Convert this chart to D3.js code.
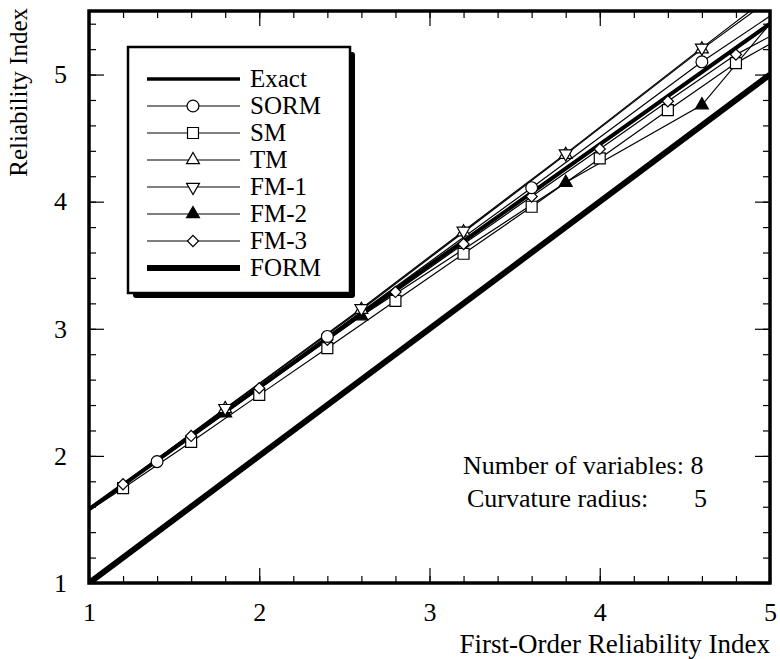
<!DOCTYPE html>
<html>
<head>
<meta charset="utf-8">
<script src="https://cdn.jsdelivr.net/npm/d3@7/dist/d3.min.js"></script>
<style>
  body { margin: 0; background: #fff; }
  svg text { font-family: "Times New Roman", "Liberation Serif", Times, "Nimbus Roman", "Noto Serif", "DejaVu Serif", serif; fill: #000; }
</style>
</head>
<body>
<svg id="chart" width="780" height="659"></svg>
<script>
// axis ticks
const xMajor = [1, 2, 3, 4, 5];
const yMajor = [1, 2, 3, 4, 5];

// series (x = first-order index, y = reliability index)
const exactX = [1, 2, 3, 4, 5];
const exactY = [1.58, 2.54, 3.50, 4.45, 5.40];
const formX = [1, 5];
const formY = [1, 5];
const sormX = [1, 1.4, 2.4, 3.6, 4.6, 5];
const sormY = [1.58, 1.955, 2.94, 4.11, 5.10, 5.46];
const smX = [1, 1.2, 1.6, 2.0, 2.4, 2.8, 3.2, 3.6, 4.0, 4.4, 4.8, 5];
const smY = [1.57, 1.746, 2.11, 2.48, 2.848, 3.22, 3.59, 3.96, 4.34, 4.72, 5.09, 5.24];
const tmX = [1, 1.8, 2.6, 3.2, 3.8, 4.6, 5];
const tmY = [1.58, 2.37, 3.15, 3.76, 4.37, 5.20, 5.59];
const fm1X = [1, 1.8, 2.6, 3.2, 3.8, 4.6, 5];
const fm1Y = [1.58, 2.375, 3.16, 3.77, 4.378, 5.21, 5.62];
const fm2X = [1, 1.8, 2.6, 3.8, 4.6, 5];
const fm2Y = [1.58, 2.336, 3.10, 4.15, 4.76, 5.40];
const fm3X = [1, 1.2, 1.6, 2.0, 2.4, 2.8, 3.2, 3.6, 4.0, 4.4, 4.8, 5];
const fm3Y = [1.59, 1.777, 2.157, 2.533, 2.913, 3.29, 3.667, 4.04, 4.415, 4.79, 5.157, 5.30];

const legendNames = ["Exact", "SORM", "SM", "TM", "FM-1", "FM-2", "FM-3", "FORM"];

const svg = d3.select("#chart");
const x = d3.scaleLinear().domain([1, 5]).range([89, 770]);
const y = d3.scaleLinear().domain([1, 5.5]).range([583, 11]);

// marker shapes
const mk = {
    circle: { type: d3.symbolCircle, size: 110, fill: "#fff", rot: 0 },
    square: { type: d3.symbolSquare, size: 120, fill: "#fff", rot: 0 },
    up: { type: d3.symbolTriangle, size: 72, fill: "#fff", rot: 0 },
    down: { type: d3.symbolTriangle, size: 72, fill: "#fff", rot: 180 },
    filled: { type: d3.symbolTriangle, size: 72, fill: "#000", rot: 0 },
    diamond: { type: d3.symbolSquare, size: 62, fill: "#fff", rot: 45 }
};

const series = [
    { name: "SM", xs: smX, ys: smY, m: "square" },
    { name: "FM-3", xs: fm3X, ys: fm3Y, m: "diamond" },
    { name: "FM-2", xs: fm2X, ys: fm2Y, m: "filled" },
    { name: "SORM", xs: sormX, ys: sormY, m: "circle" },
    { name: "TM", xs: tmX, ys: tmY, m: "up" },
    { name: "FM-1", xs: fm1X, ys: fm1Y, m: "down" }
];

svg.append("defs").append("clipPath").attr("id", "clip")
    .append("rect").attr("x", x(1)).attr("y", y(5.5))
    .attr("width", x(5) - x(1)).attr("height", y(1) - y(5.5));

const line = d3.line().x(d => x(d[0])).y(d => y(d[1]));
const pts = (xs, ys) => xs.map((v, i) => [v, ys[i]]);

const plot = svg.append("g").attr("clip-path", "url(#clip)");

plot.append("path").attr("d", line(pts(formX, formY)))
    .attr("fill", "none").attr("stroke", "#000").attr("stroke-width", 6);

series.forEach(s => {
    plot.append("path").attr("d", line(pts(s.xs, s.ys)))
        .attr("fill", "none").attr("stroke", "#000").attr("stroke-width", 1.2);
});

plot.append("path").attr("d", line(pts(exactX, exactY)))
    .attr("fill", "none").attr("stroke", "#000").attr("stroke-width", 4);

const drawMarker = (g, key, px, py) => {
    const m = mk[key];
    g.append("path")
        .attr("d", d3.symbol().type(m.type).size(m.size)())
        .attr("transform", "translate(" + px + "," + py + ") rotate(" + m.rot + ")")
        .attr("fill", m.fill).attr("stroke", "#000").attr("stroke-width", 1.2);
};

series.forEach(s => {
    pts(s.xs, s.ys).forEach(p => {
        if (p[0] > 1 && p[0] < 5) drawMarker(plot, s.m, x(p[0]), y(p[1]));
    });
});

// axes: ticks point inward on all four sides
const minorX = d3.range(1, 5.001, 0.2);
const minorY = d3.range(1, 5.5, 0.2);

svg.append("g").attr("transform", "translate(0," + y(1) + ")")
    .call(d3.axisBottom(x).tickValues(minorX).tickSize(-7).tickFormat(""));
svg.append("g").attr("transform", "translate(0," + y(1) + ")")
    .call(d3.axisBottom(x).tickValues(xMajor).tickSize(-15).tickPadding(20).tickFormat(d3.format("d")));
svg.append("g").attr("transform", "translate(0," + y(5.5) + ")")
    .call(d3.axisTop(x).tickValues(minorX).tickSize(-7).tickFormat(""));
svg.append("g").attr("transform", "translate(0," + y(5.5) + ")")
    .call(d3.axisTop(x).tickValues(xMajor).tickSize(-15).tickFormat(""));

svg.append("g").attr("transform", "translate(" + x(1) + ",0)")
    .call(d3.axisLeft(y).tickValues(minorY).tickSize(-7).tickFormat(""));
svg.append("g").attr("transform", "translate(" + x(1) + ",0)")
    .call(d3.axisLeft(y).tickValues(yMajor).tickSize(-15).tickPadding(22).tickFormat(d3.format("d")));
svg.append("g").attr("transform", "translate(" + x(5) + ",0)")
    .call(d3.axisRight(y).tickValues(minorY).tickSize(-7).tickFormat(""));
svg.append("g").attr("transform", "translate(" + x(5) + ",0)")
    .call(d3.axisRight(y).tickValues(yMajor).tickSize(-15).tickFormat(""));

svg.selectAll(".domain").remove();
svg.selectAll(".tick line").attr("stroke", "#000").attr("stroke-width", 1.2);
svg.selectAll(".tick text").attr("font-size", 26).attr("font-family", null);

// frame
svg.append("rect").attr("x", x(1)).attr("y", y(5.5))
    .attr("width", x(5) - x(1)).attr("height", y(1) - y(5.5))
    .attr("fill", "none").attr("stroke", "#000").attr("stroke-width", 3.5);

// axis titles
svg.append("text").attr("x", 770).attr("y", 653).attr("text-anchor", "end")
    .attr("font-size", 27).text("First-Order Reliability Index");
svg.append("text").attr("transform", "translate(27,8) rotate(-90)")
    .attr("text-anchor", "end").attr("font-size", 25).text("Reliability Index");

// annotation
svg.append("text").attr("x", 463).attr("y", 474).attr("font-size", 26).text("Number of variables: 8");
svg.append("text").attr("x", 467).attr("y", 507).attr("font-size", 26).text("Curvature radius:");
svg.append("text").attr("x", 707).attr("y", 507).attr("font-size", 26).attr("text-anchor", "end").text("5");

// legend
const lg = svg.append("g");
lg.append("rect").attr("x", 133).attr("y", 52).attr("width", 222).attr("height", 246)
    .attr("rx", 3).attr("fill", "#000");
lg.append("rect").attr("x", 128).attr("y", 47).attr("width", 222).attr("height", 246)
    .attr("fill", "#fff").attr("stroke", "#000").attr("stroke-width", 2.5);

const legendMarks = [null, "circle", "square", "up", "down", "filled", "diamond", null];
const legendWidths = [3.5, 1.2, 1.2, 1.2, 1.2, 1.2, 1.2, 6];
legendNames.forEach((n, i) => {
    const ly = 79 + i * 27;
    lg.append("line").attr("x1", 147).attr("x2", 240).attr("y1", ly).attr("y2", ly)
        .attr("stroke", "#000").attr("stroke-width", legendWidths[i]);
    if (legendMarks[i]) drawMarker(lg, legendMarks[i], 193, ly);
    lg.append("text").attr("x", 250).attr("y", ly + 8).attr("font-size", 25).text(n);
});
</script>
</body>
</html>
